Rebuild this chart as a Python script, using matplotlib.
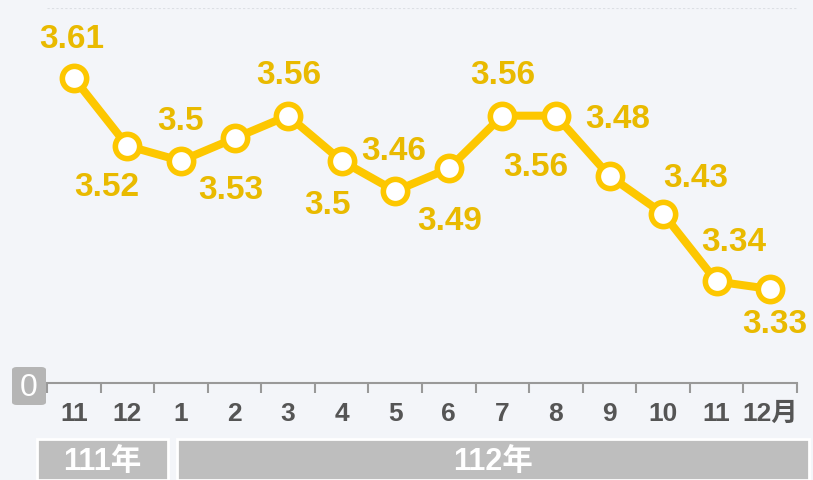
import matplotlib.pyplot as plt
from matplotlib.patches import FancyBboxPatch, Rectangle

plt.rcParams['font.family'] = ['Liberation Sans', 'Noto Sans CJK TC']

months = ["11", "12", "1", "2", "3", "4", "5", "6", "7", "8", "9", "10", "11", "12月"]
values = [3.61, 3.52, 3.5, 3.53, 3.56, 3.5, 3.46, 3.49, 3.56, 3.56, 3.48, 3.43, 3.34, 3.33]
# label offsets (pixels) relative to each point
label_dx = [-2, -21, 0, -4, 1, -14, -1, 1, 0, -20, 8, 33, 17, 5]
label_dy = [40, -41, 40, -51, 41, -44, 41, -52, 41, -51, 57, 36, 40, -34]
years = ["111年", "112年"]

bg = "#f3f5f9"
line_c = "#fdc700"
text_c = "#e9ba00"

fig = plt.figure(figsize=(8.13, 4.81), dpi=100, facecolor=bg)
ax = fig.add_axes([47 / 813, 97 / 481, 750 / 813, 375 / 481])
ax.set_facecolor(bg)

x = list(range(len(values)))
ax.plot(x, values, color=line_c, lw=5.8, marker="o", ms=17.5, mfc="white",
        mec=line_c, mew=4, zorder=3, solid_capstyle="round")

for i, v in enumerate(values):
    ax.annotate(f"{v:g}", (i, v), xytext=(label_dx[i], label_dy[i]),
                textcoords="offset pixels", ha="center", va="center",
                fontsize=24, fontweight="bold", color=text_c)

ax.set_xlim(-0.5, 13.5)
ax.set_ylim(3.2053, 3.7029)
ax.axhline(3.7029, color="#dcdfe4", lw=0.8, ls=(0, (2, 2)))

for s in ["top", "right", "left"]:
    ax.spines[s].set_visible(False)
ax.spines["bottom"].set_color("#999999")
ax.spines["bottom"].set_linewidth(1.5)
ax.set_yticks([])

ax.set_xticks([i + 0.5 for i in range(-1, 14)], minor=False)
ax.set_xticklabels([])
ax.tick_params(axis="x", length=7, width=1.5, color="#999999", direction="out")
ax.set_xticks(x, minor=True)
ax.set_xticklabels(months, minor=True)
ax.tick_params(axis="x", which="minor", length=0, pad=13, labelsize=19,
               labelcolor="#555555")
for t in ax.get_xticklabels(minor=True):
    t.set_fontweight("bold")

# "0" badge at axis origin
fig.patches.append(FancyBboxPatch((12 / 813, 75 / 481), 34 / 813, 38 / 481,
                                  boxstyle="round,pad=0,rounding_size=0.006",
                                  transform=fig.transFigure, fc="#b5b5b5", ec="none"))
fig.text(29 / 813, 93 / 481, "0", ha="center", va="center", color="white", fontsize=23)

# year boxes
boxes = [(37, 168), (177, 809)]
for (x0, x1), yr in zip(boxes, years):
    fig.patches.append(Rectangle((x0 / 813, 0), (x1 - x0) / 813, 41 / 481,
                                 transform=fig.transFigure, fc="#bebebe",
                                 ec="white", lw=2))
    fig.text((x0 + x1) / 2 / 813, 19 / 481, yr, ha="center", va="center",
             color="white", fontsize=22, fontweight="bold")

fig.savefig("out.png", dpi=100, facecolor=bg)
